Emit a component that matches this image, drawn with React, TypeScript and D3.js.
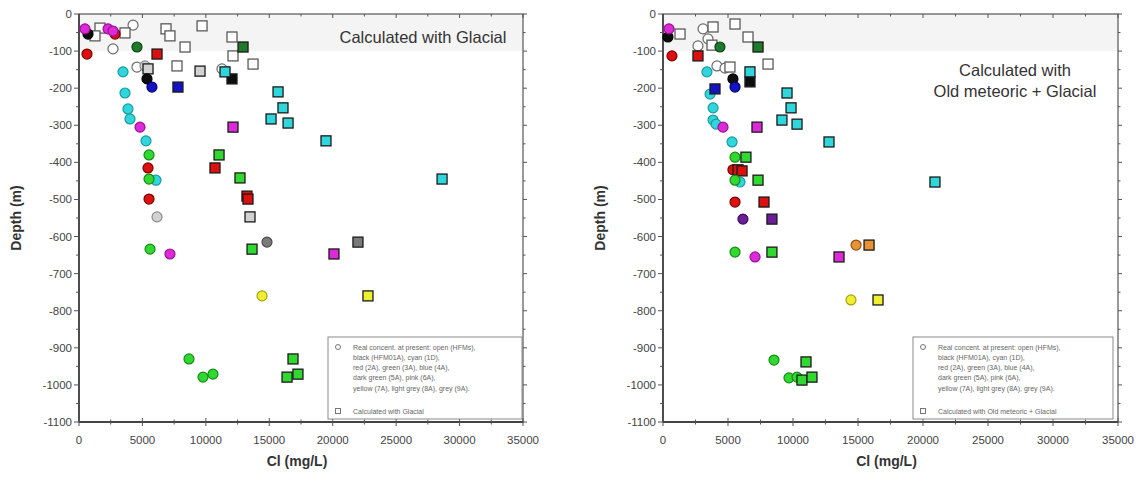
import React from 'react';
import * as d3 from 'd3';

// Cl (mg/L), depth (m) pairs

// ---- left panel: calculated with Glacial ----
const gOpenReal = [[4260, -30], [2680, -94], [4570, -143], [11270, -148]];
const gOpenCalc = [[1655, -38], [1260, -59], [3626, -51], [6860, -40], [7170, -59], [9700, -32],
  [8360, -89], [7725, -140], [12060, -62], [12140, -113], [13720, -135]];
const gBlackReal = [[710, -54], [5360, -175]];
const gBlackCalc = [[12060, -175]];
const gCyanReal = [[3470, -156], [3626, -213], [3860, -256], [4020, -283], [5280, -342], [6070, -448]];
const gCyanCalc = [[11510, -156], [15690, -210], [16080, -253], [15140, -283], [16480, -294], [19470, -342], [28620, -445]];
const gRedReal = [[630, -108], [2840, -54], [5440, -415], [5520, -499]];
const gRedCalc = [[6150, -108], [10720, -415], [13240, -491], [13320, -499]];
const gGreenReal = [[5520, -380], [5520, -445], [5600, -634], [8670, -930], [9775, -979], [10560, -971]];
const gGreenCalc = [[11040, -380], [12690, -442], [13640, -634], [16870, -930], [16400, -979], [17260, -971]];
const gBlueReal = [[5750, -197]];
const gBlueCalc = [[7800, -197]];
const gDkGreenReal = [[4570, -89]];
const gDkGreenCalc = [[12930, -89]];
const gPinkReal = [[470, -40], [2290, -40], [2680, -46], [4810, -305], [7170, -647]];
const gPinkCalc = [[12140, -305], [20100, -647]];
const gYellowReal = [[14430, -760]];
const gYellowCalc = [[22780, -760]];
const gLtGreyReal = [[5200, -140], [6150, -547]];
const gLtGreyCalc = [[5440, -148], [9540, -154], [13480, -547]];
const gGreyReal = [[14820, -615]];
const gGreyCalc = [[21990, -615]];

// ---- right panel: calculated with Old meteoric + Glacial ----
const mOpenReal = [[3080, -40], [2690, -86], [3460, -67], [4150, -140], [4770, -146]];
const mOpenCalc = [[1310, -54], [3850, -35], [5540, -27], [6540, -62], [8080, -135], [5150, -143], [3770, -84]];
const mBlackReal = [[380, -62], [5380, -175]];
const mBlackCalc = [[6690, -183]];
const mCyanReal = [[3380, -156], [3620, -216], [3850, -253], [3850, -286], [4080, -297], [5310, -345], [5920, -453]];
const mCyanCalc = [[6690, -156], [9540, -213], [9850, -253], [9150, -286], [10310, -297], [12770, -345], [20920, -453]];
const mRedReal = [[690, -113], [5380, -420], [5540, -507]];
const mRedCalc = [[2690, -113], [5770, -420], [6080, -423], [7770, -507]];
const mGreenReal = [[5540, -386], [5540, -448], [5540, -642], [8540, -933], [9690, -981], [10310, -979]];
const mGreenCalc = [[6380, -386], [7310, -448], [8380, -642], [11000, -938], [10690, -987], [11460, -979]];
const mBlueReal = [[5540, -197]];
const mBlueCalc = [[4000, -202]];
const mDkGreenReal = [[4380, -89]];
const mDkGreenCalc = [[7310, -89]];
const mPinkReal = [[460, -40], [4615, -305], [7080, -655]];
const mPinkCalc = [[7230, -305], [13540, -655]];
const mYellowReal = [[14460, -771]];
const mYellowCalc = [[16540, -771]];
const mPurpleReal = [[6150, -553]];
const mPurpleCalc = [[8380, -553]];
const mOrangeReal = [[14850, -623]];
const mOrangeCalc = [[15850, -623]];

const xTicks = [0, 5000, 10000, 15000, 20000, 25000, 30000, 35000];
const yTicks = [0, -100, -200, -300, -400, -500, -600, -700, -800, -900, -1000, -1100];

const legendLines = [
  'Real concent. at present: open (HFMs),',
  'black (HFM01A), cyan (1D),',
  'red (2A), green (3A), blue (4A),',
  'dark green (5A), pink (6A),',
  'yellow (7A), light grey (8A), grey (9A).',
];

const C: Record<string, [string, string]> = {
  open: ['#ffffff', '#6a6a6a'],
  black: ['#0d0d0d', '#000000'],
  cyan: ['#2fd6dc', '#1a9aa0'],
  red: ['#dd1010', '#7a0000'],
  green: ['#30d830', '#168a16'],
  blue: ['#1414c4', '#00006a'],
  dkgreen: ['#1f7a2c', '#0b4414'],
  pink: ['#dc2ad8', '#9a1096'],
  yellow: ['#f0ee30', '#a8a010'],
  ltgrey: ['#d2d2d2', '#8a8a8a'],
  grey: ['#7a7a7a', '#4a4a4a'],
  purple: ['#6a1f98', '#3a0a5a'],
  orange: ['#e69235', '#8a5010'],
};

type Series = { pts: number[][]; col: string; sq: boolean };

const leftSeries: Series[] = [
  { pts: gOpenReal, col: 'open', sq: false },
  { pts: gOpenCalc, col: 'open', sq: true },
  { pts: gLtGreyReal, col: 'ltgrey', sq: false },
  { pts: gLtGreyCalc, col: 'ltgrey', sq: true },
  { pts: gBlackReal, col: 'black', sq: false },
  { pts: gBlackCalc, col: 'black', sq: true },
  { pts: gCyanReal, col: 'cyan', sq: false },
  { pts: gCyanCalc, col: 'cyan', sq: true },
  { pts: gRedReal, col: 'red', sq: false },
  { pts: gRedCalc, col: 'red', sq: true },
  { pts: gGreenReal, col: 'green', sq: false },
  { pts: gGreenCalc, col: 'green', sq: true },
  { pts: gBlueReal, col: 'blue', sq: false },
  { pts: gBlueCalc, col: 'blue', sq: true },
  { pts: gDkGreenReal, col: 'dkgreen', sq: false },
  { pts: gDkGreenCalc, col: 'dkgreen', sq: true },
  { pts: gPinkReal, col: 'pink', sq: false },
  { pts: gPinkCalc, col: 'pink', sq: true },
  { pts: gYellowReal, col: 'yellow', sq: false },
  { pts: gYellowCalc, col: 'yellow', sq: true },
  { pts: gGreyReal, col: 'grey', sq: false },
  { pts: gGreyCalc, col: 'grey', sq: true },
];

const rightSeries: Series[] = [
  { pts: mOpenReal, col: 'open', sq: false },
  { pts: mOpenCalc, col: 'open', sq: true },
  { pts: mBlackReal, col: 'black', sq: false },
  { pts: mBlackCalc, col: 'black', sq: true },
  { pts: mCyanReal, col: 'cyan', sq: false },
  { pts: mCyanCalc, col: 'cyan', sq: true },
  { pts: mRedReal, col: 'red', sq: false },
  { pts: mRedCalc, col: 'red', sq: true },
  { pts: mGreenReal, col: 'green', sq: false },
  { pts: mGreenCalc, col: 'green', sq: true },
  { pts: mBlueReal, col: 'blue', sq: false },
  { pts: mBlueCalc, col: 'blue', sq: true },
  { pts: mDkGreenReal, col: 'dkgreen', sq: false },
  { pts: mDkGreenCalc, col: 'dkgreen', sq: true },
  { pts: mPinkReal, col: 'pink', sq: false },
  { pts: mPinkCalc, col: 'pink', sq: true },
  { pts: mPurpleReal, col: 'purple', sq: false },
  { pts: mPurpleCalc, col: 'purple', sq: true },
  { pts: mOrangeReal, col: 'orange', sq: false },
  { pts: mOrangeCalc, col: 'orange', sq: true },
  { pts: mYellowReal, col: 'yellow', sq: false },
  { pts: mYellowCalc, col: 'yellow', sq: true },
];

const font = 'Arial, "Liberation Sans", sans-serif';
const axisCol = '#555';
const txtCol = '#444';

function Panel(props: {
  x0: number; x1: number; series: Series[]; title: string[]; titleX: number; titleY: number;
  legendX: number; legendW: number; calcLabel: string;
}) {
  const { x0, x1, series } = props;
  const y0 = 14, y1 = 422;
  const x = d3.scaleLinear().domain([0, 35000]).range([x0, x1]);
  const y = d3.scaleLinear().domain([0, -1100]).range([y0, y1]);
  const xMinor = d3.range(2500, 35000, 5000);
  const yMinor = d3.range(-50, -1100, -100);
  const lx = props.legendX, lw = props.legendW, ly = 337, lh = 82;

  return (
    <g>
      <rect x={x0} y={y0} width={x1 - x0} height={y(-100) - y0} fill="#f4f4f4" />
      {/* frame */}
      <rect x={x0} y={y0} width={x1 - x0} height={y1 - y0} fill="none" stroke={axisCol} strokeWidth={1.2} />
      <line x1={x0} x2={x0} y1={y0} y2={y1} stroke="#444" strokeWidth={1.8} />
      <line x1={x0} x2={x1} y1={y1} y2={y1} stroke="#444" strokeWidth={1.8} />
      {xTicks.map((t) => (
        <g key={'xt' + t}>
          <line x1={x(t)} x2={x(t)} y1={y1 - 4} y2={y1 + 4} stroke={axisCol} />
          <line x1={x(t)} x2={x(t)} y1={y0} y2={y0 + 4} stroke={axisCol} />
          <text x={x(t)} y={y1 + 22} textAnchor="middle" fontFamily={font} fontSize={11.5} fill={txtCol}>{t}</text>
        </g>
      ))}
      {xMinor.map((t) => (
        <g key={'xm' + t}>
          <line x1={x(t)} x2={x(t)} y1={y1 - 2.5} y2={y1 + 2.5} stroke={axisCol} />
          <line x1={x(t)} x2={x(t)} y1={y0} y2={y0 + 2.5} stroke={axisCol} />
        </g>
      ))}
      {yTicks.map((t) => (
        <g key={'yt' + t}>
          <line x1={x0 - 5} x2={x0} y1={y(t)} y2={y(t)} stroke={axisCol} />
          <line x1={x1} x2={x1 + 4} y1={y(t)} y2={y(t)} stroke={axisCol} />
          <text x={x0 - 7} y={y(t) + 4} textAnchor="end" fontFamily={font} fontSize={11.5} fill={txtCol}>{t}</text>
        </g>
      ))}
      {yMinor.map((t) => (
        <g key={'ym' + t}>
          <line x1={x0 - 3} x2={x0} y1={y(t)} y2={y(t)} stroke={axisCol} />
          <line x1={x1} x2={x1 + 2.5} y1={y(t)} y2={y(t)} stroke={axisCol} />
        </g>
      ))}
      <text transform={`translate(${x0 - 58},${(y0 + y1) / 2}) rotate(-90)`} textAnchor="middle"
        fontFamily={font} fontSize={14} fontWeight="bold" fill="#333">Depth (m)</text>
      <text x={(x0 + x1) / 2 - 4} y={466} textAnchor="middle" fontFamily={font} fontSize={14}
        fontWeight="bold" fill="#333">Cl (mg/L)</text>

      {props.title.map((s, i) => (
        <text key={s} x={props.titleX} y={props.titleY + i * 21} textAnchor="middle" fontFamily={font}
          fontSize={16.5} fill="#333">{s}</text>
      ))}

      {series.map((s, si) => (
        <g key={si}>
          {s.pts.map((p, i) => {
            const [f, st] = C[s.col];
            return s.sq ? (
              <rect key={i} x={x(p[0]) - 5} y={y(p[1]) - 5} width={10} height={10} fill={f}
                stroke={s.col === 'open' ? '#5a5a5a' : '#1a1a1a'} strokeWidth={1.3} />
            ) : (
              <circle key={i} cx={x(p[0])} cy={y(p[1])} r={5} fill={f} stroke={st} strokeWidth={1.2} />
            );
          })}
        </g>
      ))}

      {/* legend */}
      <rect x={lx} y={ly} width={lw} height={lh} fill="#fff" stroke="#8a8a8a" strokeWidth={1} />
      <circle cx={lx + 10} cy={ly + 10} r={2.5} fill="#fff" stroke="#777" />
      {legendLines.map((s, i) => (
        <text key={s} x={lx + 25} y={ly + 12.5 + i * 10.3} fontFamily={font} fontSize={7} fill="#666">{s}</text>
      ))}
      <rect x={lx + 7.5} y={ly + 71.5} width={5} height={5} fill="#fff" stroke="#777" />
      <text x={lx + 25} y={ly + 76.5} fontFamily={font} fontSize={7} fill="#666">{props.calcLabel}</text>
    </g>
  );
}

export default function App() {
  return (
    <svg width={1142} height={477} style={{ position: 'absolute', left: 0, top: 0, background: '#fff' }}>
      <Panel x0={79} x1={523} series={leftSeries} title={['Calculated with Glacial']} titleX={423} titleY={43}
        legendX={328} legendW={194} calcLabel="Calculated with Glacial" />
      <Panel x0={663} x1={1118} series={rightSeries} title={['Calculated with', 'Old meteoric + Glacial']}
        titleX={1015} titleY={76} legendX={913} legendW={200} calcLabel="Calculated with Old meteoric + Glacial" />
    </svg>
  );
}
